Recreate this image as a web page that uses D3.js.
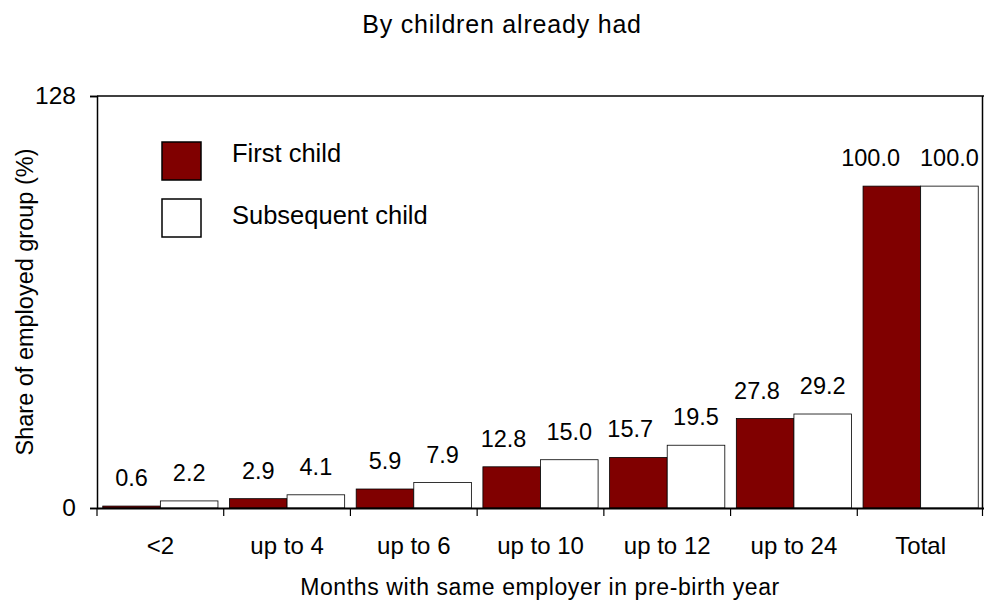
<!DOCTYPE html>
<html>
<head>
<meta charset="utf-8">
<script src="https://cdn.jsdelivr.net/npm/d3@7"></script>
<style>
  body { margin: 0; background: #fff; }
  text { font-family: "Liberation Sans", Arial, sans-serif; fill: #000; }
</style>
</head>
<body>
<div id="chart"></div>
<script>
const categories = ["<2", "up to 4", "up to 6", "up to 10", "up to 12", "up to 24", "Total"];
const firstChild = [0.6, 2.9, 5.9, 12.8, 15.7, 27.8, 100.0];
const subsequentChild = [2.2, 4.1, 7.9, 15.0, 19.5, 29.2, 100.0];
const seriesNames = ["First child", "Subsequent child"];
const seriesColors = ["#800000", "#ffffff"];
const yTicks = [0, 128];

const width = 984, height = 601;
const margin = { top: 96, right: 0, bottom: 93, left: 97 };

const svg = d3.select("#chart").append("svg")
    .attr("width", width)
    .attr("height", height);

const x = d3.scaleBand()
    .domain(categories)
    .range([margin.left, width - margin.right]);

const x1 = d3.scaleBand()
    .domain([0, 1])
    .range([0, x.bandwidth()])
    .paddingOuter(0.1);

const y = d3.scaleLinear()
    .domain([0, 128])
    .range([height - margin.bottom, margin.top]);

const data = categories.map((c, i) => ({ cat: c, values: [firstChild[i], subsequentChild[i]] }));

// frame: top and right lines
svg.append("line")
    .attr("x1", margin.left).attr("x2", width)
    .attr("y1", y(128)).attr("y2", y(128))
    .attr("stroke", "#000").attr("stroke-width", 1.5);
svg.append("line")
    .attr("x1", width - 1.5).attr("x2", width - 1.5)
    .attr("y1", y(128)).attr("y2", y(0))
    .attr("stroke", "#000").attr("stroke-width", 1.5);

const groups = svg.selectAll("g.grp")
    .data(data)
    .enter()
    .append("g")
        .attr("class", "grp")
        .attr("transform", d => `translate(${x(d.cat)},0)`);

groups.selectAll("rect")
    .data(d => d.values.map((v, k) => ({ v, k })))
    .enter()
    .append("rect")
        .attr("x", d => x1(d.k))
        .attr("y", d => y(d.v))
        .attr("width", x1.bandwidth())
        .attr("height", d => y(0) - y(d.v))
        .attr("fill", d => seriesColors[d.k])
        .attr("stroke", "#000")
        .attr("stroke-width", 0.8);

// value labels; the pair in a group is pushed apart if it would collide
groups.each(function (d) {
    const items = d.values.map((v, k) => ({ v, k, cx: x1(k) + x1.bandwidth() / 2 }));
    const sel = d3.select(this).selectAll("text")
        .data(items)
        .enter()
        .append("text")
            .attr("y", e => y(e.v) - 20)
            .attr("text-anchor", "middle")
            .style("font-size", "23.5px")
            .text(e => e.v.toFixed(1));
    sel.each(function (e) { e.w = this.getComputedTextLength(); });
    let limit = width - 1 - x(d.cat);
    for (let i = items.length - 1; i >= 0; i--) {
        const e = items[i];
        if (e.cx + e.w / 2 > limit) e.cx = limit - e.w / 2;
        limit = e.cx - e.w / 2 - 20;
    }
    sel.attr("x", e => e.cx);
});

// y axis
const yAxis = svg.append("g")
    .attr("transform", `translate(${margin.left},0)`)
    .call(d3.axisLeft(y).tickValues(yTicks).tickSize(7).tickPadding(14));
yAxis.selectAll("text")
    .style("font-size", "24.5px")
    .style("font-family", "Liberation Sans, Arial, sans-serif")
    .attr("dy", "0.3em");
yAxis.selectAll("path, line").attr("stroke", "#000").attr("stroke-width", 1.5);

// x axis
const xAxis = svg.append("g")
    .attr("transform", `translate(0,${y(0)})`)
    .call(d3.axisBottom(x).tickSize(0));
xAxis.select(".domain").attr("stroke", "#000").attr("stroke-width", 2);
xAxis.selectAll("text")
    .attr("y", 46).attr("dy", 0)
    .style("font-size", "24px")
    .style("font-family", "Liberation Sans, Arial, sans-serif");
xAxis.selectAll("line.sep")
    .data(categories.concat(["end"]))
    .enter()
    .append("line")
        .attr("class", "sep")
        .attr("x1", (d, i) => i < categories.length ? x(d) : x.range()[1] - 1.5)
        .attr("x2", (d, i) => i < categories.length ? x(d) : x.range()[1] - 1.5)
        .attr("y1", 0).attr("y2", 8)
        .attr("stroke", "#000").attr("stroke-width", 1.2);

// titles
svg.append("text")
    .attr("x", 502).attr("y", 33)
    .attr("text-anchor", "middle")
    .style("font-size", "25px")
    .style("letter-spacing", "0.8px")
    .text("By children already had");

svg.append("text")
    .attr("x", 540).attr("y", 595)
    .attr("text-anchor", "middle")
    .style("font-size", "23px")
    .style("letter-spacing", "0.6px")
    .text("Months with same employer in pre-birth year");

svg.append("text")
    .attr("transform", `translate(33,302) rotate(-90)`)
    .attr("text-anchor", "middle")
    .style("font-size", "23.5px")
    .text("Share of employed group (%)");

// legend
const legend = svg.append("g").attr("transform", "translate(162,142)");
seriesNames.forEach((name, i) => {
    legend.append("rect")
        .attr("x", 0).attr("y", i * 57)
        .attr("width", 39).attr("height", 38)
        .attr("fill", seriesColors[i])
        .attr("stroke", "#000")
        .attr("stroke-width", 1.5);
    legend.append("text")
        .attr("x", 70).attr("y", 20 + i * 62)
        .style("font-size", "25.5px")
        .text(name);
});
</script>
</body>
</html>
